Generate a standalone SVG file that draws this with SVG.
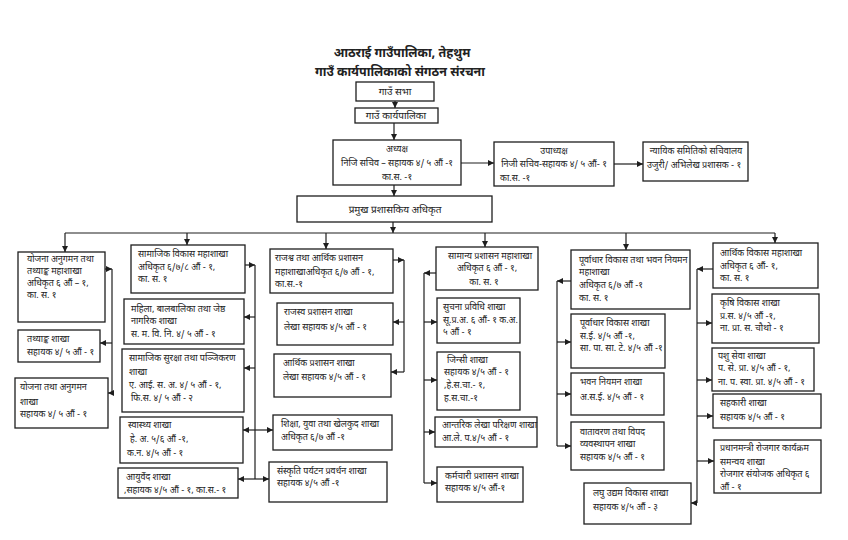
<svg xmlns="http://www.w3.org/2000/svg" width="848" height="540" viewBox="0 0 848 540">
<style>
.box{fill:#fff;stroke:#1e1e1e;stroke-width:1.3}
.t{font-family:"Noto Sans Devanagari","Noto Serif Devanagari","Noto Sans","DejaVu Sans",sans-serif;font-size:9px;fill:#222}
.c{text-anchor:middle}
.h{font-size:10px}
.title{font-family:"Noto Sans Devanagari","Noto Serif Devanagari","Noto Sans",sans-serif;font-size:12.5px;font-weight:bold;fill:#222;text-anchor:middle}
.ln{fill:none;stroke:#1e1e1e;stroke-width:1.2}
</style>
<defs>
<marker id="ah" viewBox="0 0 10 10" refX="10" refY="5" markerWidth="6" markerHeight="6" markerUnits="userSpaceOnUse" orient="auto">
<path d="M0,0 L10,5 L0,10 z" fill="#1e1e1e"/>
</marker>
</defs>
<rect width="848" height="540" fill="#fff"/>
<g id="title">
<text class="title" x="402" y="57">आठराई गाउँपालिका, तेहथुम</text>
<text class="title" x="400" y="76">गाउँ कार्यपालिकाको संगठन संरचना</text>
</g>
<g id="connectors">
<path class="ln" marker-end="url(#ah)" d="M395,101 V108"/>
<path class="ln" marker-end="url(#ah)" d="M394,122 V140"/>
<path class="ln" marker-end="url(#ah)" d="M461,163 H494"/>
<path class="ln" marker-end="url(#ah)" d="M614,164 H643"/>
<path class="ln" marker-end="url(#ah)" d="M394,185 V196"/>
<path class="ln" marker-end="url(#ah)" d="M393,222 V233"/>
<path class="ln" d="M65,233 H775"/>
<path class="ln" marker-end="url(#ah)" d="M65,233 V252"/>
<path class="ln" marker-end="url(#ah)" d="M187,233 V245"/>
<path class="ln" marker-end="url(#ah)" d="M326,233 V249"/>
<path class="ln" marker-end="url(#ah)" d="M485,233 V247"/>
<path class="ln" marker-end="url(#ah)" d="M626,233 V250"/>
<path class="ln" marker-end="url(#ah)" d="M775,233 V243"/>
<!-- col1 -->
<path class="ln" d="M112,269 V393"/>
<path class="ln" marker-end="url(#ah)" d="M105,269 H112"/>
<path class="ln" marker-end="url(#ah)" d="M112,343 H100"/>
<path class="ln" marker-end="url(#ah)" d="M112,393 H108"/>
<!-- col2 -->
<path class="ln" d="M255,265 V479"/>
<path class="ln" marker-end="url(#ah)" d="M245,265 H255"/>
<path class="ln" marker-end="url(#ah)" d="M255,317 H244"/>
<path class="ln" marker-end="url(#ah)" d="M255,368 H244"/>
<path class="ln" marker-end="url(#ah)" d="M255,430 H243"/>
<path class="ln" marker-end="url(#ah)" d="M255,430 H273"/>
<path class="ln" marker-end="url(#ah)" d="M255,479 H238"/>
<path class="ln" marker-end="url(#ah)" d="M255,479 H269"/>
<!-- col3 -->
<path class="ln" d="M404,260 V372"/>
<path class="ln" marker-end="url(#ah)" d="M393,260 H404"/>
<path class="ln" marker-end="url(#ah)" d="M404,322 H393"/>
<path class="ln" marker-end="url(#ah)" d="M404,372 H391"/>
<!-- col4 -->
<path class="ln" d="M424,273 V483"/>
<path class="ln" marker-end="url(#ah)" d="M436,273 H424"/>
<path class="ln" marker-end="url(#ah)" d="M424,322 H437"/>
<path class="ln" marker-end="url(#ah)" d="M424,380 H437"/>
<path class="ln" marker-end="url(#ah)" d="M424,432 H435"/>
<path class="ln" marker-end="url(#ah)" d="M424,483 H437"/>
<!-- col5 -->
<path class="ln" d="M557,281 V446"/>
<path class="ln" marker-end="url(#ah)" d="M571,281 H557"/>
<path class="ln" marker-end="url(#ah)" d="M557,342 H571"/>
<path class="ln" marker-end="url(#ah)" d="M557,394 H571"/>
<path class="ln" marker-end="url(#ah)" d="M557,446 H571"/>
<!-- col6 -->
<path class="ln" d="M697,269 V503"/>
<path class="ln" marker-end="url(#ah)" d="M713,269 H697"/>
<path class="ln" marker-end="url(#ah)" d="M697,323 H712"/>
<path class="ln" marker-end="url(#ah)" d="M697,380 H712"/>
<path class="ln" marker-end="url(#ah)" d="M697,416 H713"/>
<path class="ln" marker-end="url(#ah)" d="M697,461 H714"/>
<path class="ln" marker-end="url(#ah)" d="M697,503 H691"/>
</g>
<g id="gaun-sabha"><rect class="box" x="356" y="82" width="78" height="19"/><text class="t c h" x="395" y="95">गाउँ सभा</text></g>
<g id="gaun-karyapalika"><rect class="box" x="355" y="108" width="83" height="15"/><text class="t c h" x="396" y="119">गाउँ कार्यपालिका</text></g>
<g id="adhyaksha"><rect class="box" x="333" y="140" width="128" height="45"/>
<text class="t c" x="397" y="152">अध्यक्ष</text>
<text class="t c" x="397" y="166">निजि सचिव – सहायक ४/ ५ औं -१</text>
<text class="t c" x="397" y="180">का.स. -१</text></g>
<g id="upadhyaksha"><rect class="box" x="494" y="142" width="120" height="44"/>
<text class="t c" x="554" y="154">उपाध्यक्ष</text>
<text class="t c" x="554" y="167">निजी सचिव-सहायक ४/ ५ औं- १</text>
<text class="t" x="500" y="181">का.स. -१</text></g>
<g id="nyayik"><rect class="box" x="643" y="142" width="105" height="39"/>
<text class="t c" x="696" y="154">न्यायिक समितिको सचिवालय</text>
<text class="t c" x="694" y="168">उजुरी/ अभिलेख प्रशासक - १</text></g>
<g id="pramukh"><rect class="box" x="297" y="196" width="195" height="26"/><text class="t c h" x="395" y="213">प्रमुख प्रशासकिय अधिकृत</text></g>

<g id="yojana-mahashakha"><rect class="box" x="18" y="252" width="87" height="70"/>
<text class="t" x="27" y="262">योजना अनुगमन तथा</text>
<text class="t" x="27" y="274">तथ्याङ्क महाशाखा</text>
<text class="t" x="27" y="286">अधिकृत ६ औं – १,</text>
<text class="t" x="27" y="298">का. स. १</text></g>
<g id="tathyanka"><rect class="box" x="18" y="330" width="82" height="32"/>
<text class="t" x="27" y="342">तथ्याङ्क शाखा</text>
<text class="t" x="27" y="355">सहायक ४/ ५ औं  - १</text></g>
<g id="yojana-shakha"><rect class="box" x="15" y="378" width="93" height="50"/>
<text class="t" x="20" y="390">योजना तथा अनुगमन</text>
<text class="t" x="20" y="405">शाखा</text>
<text class="t" x="20" y="417">सहायक ४/ ५ औं  - १</text></g>

<g id="samajik-mahashakha"><rect class="box" x="131" y="245" width="114" height="48"/>
<text class="t" x="138" y="257">सामाजिक विकास महाशाखा</text>
<text class="t" x="138" y="270">अधिकृत ६/७/८ औं - १,</text>
<text class="t" x="138" y="282">का. स. १</text></g>
<g id="mahila"><rect class="box" x="124" y="299" width="120" height="45"/>
<text class="t" x="131" y="312">महिला, बालबालिका तथा जेष्ठ</text>
<text class="t" x="131" y="324">नागरिक शाखा</text>
<text class="t" x="131" y="337">स. म. वि. नि. ४/ ५ औं - १</text></g>
<g id="samajik-suraksha"><rect class="box" x="122" y="349" width="122" height="63"/>
<text class="t" x="129" y="361">सामाजिक सुरक्षा तथा पञ्जिकरण</text>
<text class="t" x="129" y="375">शाखा</text>
<text class="t" x="129" y="388">ए. आई. स. अ. ४/ ५ औं  - १,</text>
<text class="t" x="131" y="401">फि.स. ४/ ५ औं - २</text></g>
<g id="swasthya"><rect class="box" x="120" y="417" width="123" height="46"/>
<text class="t" x="128" y="428">स्वास्थ्य शाखा</text>
<text class="t" x="130" y="442">हे. अ. ५/६ औं -१,</text>
<text class="t" x="127" y="456">क.न. ४/५ औं  - १</text></g>
<g id="ayurved"><rect class="box" x="118" y="468" width="120" height="30"/>
<text class="t" x="126" y="480">आयुर्वेद शाखा</text>
<text class="t" x="124" y="493">,सहायक ४/५ औं - १, का.स.- १</text></g>

<g id="rajashwa-mahashakha"><rect class="box" x="270" y="249" width="123" height="44"/>
<text class="t" x="275" y="261">राजश्व तथा आर्थिक प्रशासन</text>
<text class="t" x="275" y="275">महाशाखाअधिकृत ६/७ औं  - १,</text>
<text class="t" x="275" y="287">का.स.-१</text></g>
<g id="rajaswa-prashasan"><rect class="box" x="277" y="303" width="116" height="42"/>
<text class="t" x="284" y="315">राजस्व प्रशासन शाखा</text>
<text class="t" x="284" y="330">लेखा सहायक ४/५ औं - १</text></g>
<g id="arthik-prashasan"><rect class="box" x="274" y="354" width="117" height="43"/>
<text class="t" x="283" y="366">आर्थिक प्रशासन शाखा</text>
<text class="t" x="283" y="380">लेखा सहायक ४/५ औं - १</text></g>
<g id="shiksha"><rect class="box" x="273" y="415" width="119" height="35"/>
<text class="t" x="281" y="427">शिक्षा, युवा तथा खेलकुद शाखा</text>
<text class="t" x="281" y="440">अधिकृत ६/७ औं  -१</text></g>
<g id="sanskriti"><rect class="box" x="269" y="462" width="118" height="40"/>
<text class="t" x="277" y="474">संस्कृति पर्यटन प्रवर्धन शाखा</text>
<text class="t" x="277" y="486">सहायक ४/५ औं  -१</text></g>

<g id="samanya-mahashakha"><rect class="box" x="436" y="247" width="102" height="43"/>
<text class="t c" x="490" y="259">सामान्य प्रशासन महाशाखा</text>
<text class="t c" x="487" y="271">अधिकृत ६ औं - १,</text>
<text class="t c" x="484" y="285">का. स. १</text></g>
<g id="suchana"><rect class="box" x="437" y="298" width="83" height="45"/>
<text class="t" x="443" y="310">सुचना प्रविधि शाखा</text>
<text class="t" x="443" y="323">सू.प्र.अ. ६ औं- १ क.अ.</text>
<text class="t" x="443" y="335">५ औं - १</text></g>
<g id="jinsi"><rect class="box" x="437" y="352" width="83" height="58"/>
<text class="t" x="447" y="363">जिन्सी शाखा</text>
<text class="t" x="444" y="375">सहायक ४/५ औं - १</text>
<text class="t" x="444" y="388">,हे.स.चा.- १,</text>
<text class="t" x="444" y="401">ह.स.चा.-१</text></g>
<g id="antarik"><rect class="box" x="435" y="417" width="102" height="30"/>
<text class="t" x="442" y="428">आन्तरिक लेखा परिक्षण शाखा</text>
<text class="t" x="442" y="441">आ.ले. प.४/५ औं - १</text></g>
<g id="karmachari"><rect class="box" x="437" y="467" width="86" height="35"/>
<text class="t" x="445" y="479">कर्मचारी प्रशासन शाखा</text>
<text class="t" x="445" y="491">सहायक ४/५ औं-१</text></g>

<g id="purwadhar-mahashakha"><rect class="box" x="571" y="250" width="119" height="59"/>
<text class="t" x="579" y="263">पूर्वाधार विकास तथा भवन नियमन</text>
<text class="t" x="579" y="275">महाशाखा</text>
<text class="t" x="579" y="288">अधिकृत ६/७ औं -१</text>
<text class="t" x="579" y="301">का. स. १</text></g>
<g id="purwadhar-shakha"><rect class="box" x="571" y="314" width="94" height="54"/>
<text class="t" x="580" y="326">पूर्वाधार विकास शाखा</text>
<text class="t" x="580" y="339">स.ई. ४/५ औं -१,</text>
<text class="t" x="580" y="351">सा. पा. सा. टे. ४/५ औं -१</text></g>
<g id="bhawan"><rect class="box" x="571" y="373" width="93" height="42"/>
<text class="t" x="580" y="385">भवन नियमन शाखा</text>
<text class="t" x="580" y="400">अ.स.ई. ४/५ औं - १</text></g>
<g id="watawaran"><rect class="box" x="571" y="422" width="93" height="48"/>
<text class="t" x="580" y="435">वातावरण तथा विपद</text>
<text class="t" x="580" y="447">व्यवस्थापन शाखा</text>
<text class="t" x="580" y="460">सहायक ४/५ औं - १</text></g>
<g id="laghu"><rect class="box" x="584" y="483" width="107" height="41"/>
<text class="t" x="593" y="496">लघु उद्यम विकास शाखा</text>
<text class="t" x="593" y="510">सहायक ४/५ औं - ३</text></g>

<g id="arthik-mahashakha"><rect class="box" x="713" y="243" width="105" height="45"/>
<text class="t" x="720" y="256">आर्थिक विकास महाशाखा</text>
<text class="t" x="720" y="269">अधिकृत ६ औं- १,</text>
<text class="t" x="720" y="281">का. स. १</text></g>
<g id="krishi"><rect class="box" x="712" y="294" width="107" height="49"/>
<text class="t" x="720" y="306">कृषि विकास शाखा</text>
<text class="t" x="720" y="319">प्र.स. ४/५ औं -१,</text>
<text class="t" x="720" y="331">ना. प्रा. स. चौथो  - १</text></g>
<g id="pashu"><rect class="box" x="712" y="348" width="102" height="43"/>
<text class="t" x="718" y="359">पशु सेवा शाखा</text>
<text class="t" x="718" y="371">प. से. प्रा. ४/५ औं  - १,</text>
<text class="t" x="718" y="385">ना. प. स्वा. प्रा. ४/५ औं  - १</text></g>
<g id="sahakari"><rect class="box" x="713" y="394" width="108" height="34"/>
<text class="t" x="720" y="406">सहकारी शाखा</text>
<text class="t" x="720" y="420">सहायक ४/५ औं  - १</text></g>
<g id="pradhanmantri"><rect class="box" x="714" y="440" width="107" height="53"/>
<text class="t" x="720" y="451">प्रधानमन्त्री रोजगार कार्यक्रम</text>
<text class="t" x="720" y="465">समन्वय शाखा</text>
<text class="t" x="720" y="477">रोजगार संयोजक अधिकृत ६</text>
<text class="t" x="720" y="490">औं  - १</text></g>
</svg>
